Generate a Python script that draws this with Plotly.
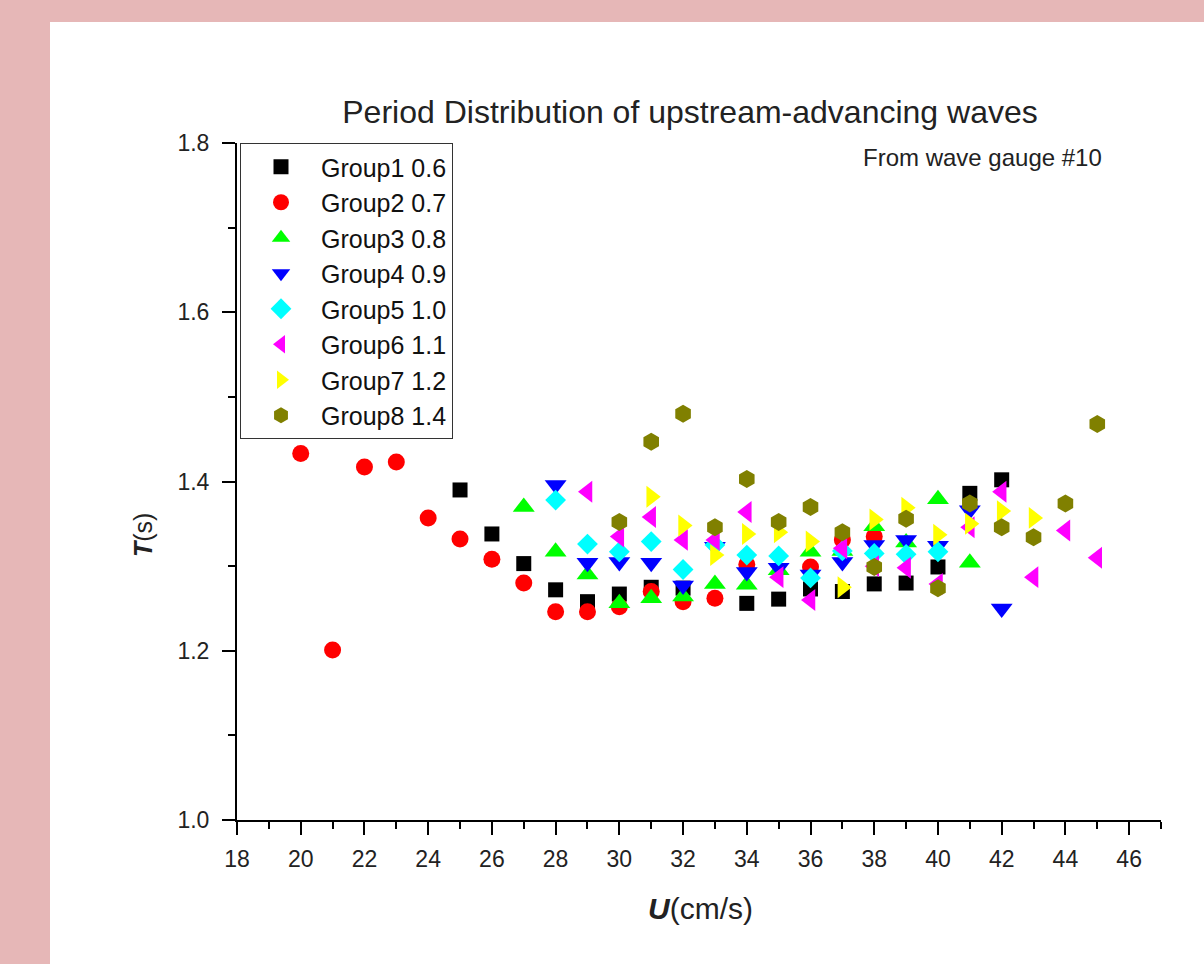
import plotly.graph_objects as go

# ---- data ----
g1_u = [25, 26, 27, 28, 29, 30, 31, 32, 34, 35, 36, 37, 38, 39, 40, 41, 42]
g1_t = [1.390, 1.338, 1.303, 1.272, 1.258, 1.267, 1.275, 1.274, 1.256, 1.261, 1.273, 1.270, 1.279, 1.280, 1.299, 1.386, 1.402]

g2_u = [20, 21, 22, 23, 24, 25, 26, 27, 28, 29, 30, 31, 32, 33, 34, 36, 37, 38]
g2_t = [1.433, 1.201, 1.417, 1.423, 1.357, 1.332, 1.308, 1.280, 1.246, 1.246, 1.252, 1.270, 1.258, 1.262, 1.302, 1.299, 1.331, 1.335]

g3_u = [27, 28, 29, 30, 31, 32, 33, 34, 35, 36, 37, 38, 39, 40, 41]
g3_t = [1.370, 1.317, 1.290, 1.256, 1.262, 1.264, 1.279, 1.278, 1.295, 1.317, 1.318, 1.347, 1.328, 1.379, 1.304]

g4_u = [28, 29, 30, 31, 32, 33, 34, 35, 36, 37, 38, 39, 40, 41, 42]
g4_t = [1.396, 1.304, 1.305, 1.304, 1.277, 1.323, 1.293, 1.298, 1.290, 1.305, 1.325, 1.331, 1.324, 1.366, 1.250]

g5_u = [28, 29, 30, 31, 32, 33, 34, 35, 36, 37, 38, 39, 40]
g5_t = [1.378, 1.326, 1.317, 1.329, 1.296, 1.325, 1.313, 1.312, 1.286, 1.318, 1.315, 1.314, 1.317]

g6_u = [29, 30, 31, 32, 33, 34, 35, 36, 37, 38, 39, 40, 41, 42, 43, 44, 45]
g6_t = [1.388, 1.335, 1.358, 1.331, 1.331, 1.364, 1.287, 1.260, 1.321, 1.300, 1.298, 1.279, 1.346, 1.388, 1.287, 1.342, 1.310]

g7_u = [31, 32, 33, 34, 35, 36, 37, 38, 39, 40, 41, 42, 43]
g7_t = [1.382, 1.348, 1.313, 1.338, 1.340, 1.329, 1.275, 1.355, 1.369, 1.337, 1.350, 1.365, 1.357]

g8_u = [30, 31, 32, 33, 34, 35, 36, 37, 38, 39, 40, 41, 42, 43, 44, 45]
g8_t = [1.352, 1.447, 1.480, 1.346, 1.403, 1.352, 1.370, 1.340, 1.299, 1.356, 1.274, 1.374, 1.346, 1.334, 1.374, 1.468]

names = ["Group1 0.6", "Group2 0.7", "Group3 0.8", "Group4 0.9",
         "Group5 1.0", "Group6 1.1", "Group7 1.2", "Group8 1.4"]
x_ticks = [18, 20, 22, 24, 26, 28, 30, 32, 34, 36, 38, 40, 42, 44, 46]
y_ticks = [1.0, 1.2, 1.4, 1.6, 1.8]

series = [(g1_u, g1_t), (g2_u, g2_t), (g3_u, g3_t), (g4_u, g4_t),
          (g5_u, g5_t), (g6_u, g6_t), (g7_u, g7_t), (g8_u, g8_t)]
colors = ["#000000", "#FF0000", "#00FF00", "#0000FF",
          "#00FFFF", "#FF00FF", "#FFFF00", "#808000"]
symbols = ["square", "circle", "triangle-up", "triangle-down",
           "diamond", "triangle-left", "triangle-right", "hexagon"]
sizes = [15, 17, 19, 19, 16, 19, 19, 18]

FONT = "Arial, 'Liberation Sans', sans-serif"
TXT = "#222222"

fig = go.Figure()
for (u, t), nm, c, s, sz in zip(series, names, colors, symbols, sizes):
    fig.add_trace(go.Scatter(
        x=u, y=t, mode="markers", name=nm,
        marker=dict(symbol=s, color=c, size=sz, line=dict(width=0)),
    ))

W, H = 1204, 964
L, R, T, B = 237, 43, 143, 144
pw, ph = W - L - R, H - T - B

fig.update_layout(
    width=W, height=H,
    margin=dict(l=L, r=R, t=T, b=B, pad=0),
    paper_bgcolor="#E6B7B7",
    plot_bgcolor="white",
    font=dict(family=FONT, color=TXT),
    showlegend=True,
    title=dict(
        text="Period Distribution of upstream-advancing waves",
        x=690 / W, xref="container", xanchor="center",
        y=1 - 112 / H, yref="container", yanchor="middle",
        font=dict(size=32, family=FONT, color=TXT),
    ),
    legend=dict(
        x=3 / pw, y=1.0, xanchor="left", yanchor="top",
        bgcolor="white", bordercolor="#333333", borderwidth=1,
        font=dict(size=25, family=FONT, color="#111111"),
        itemwidth=70,
    ),
    shapes=[dict(
        type="rect", xref="paper", yref="paper",
        x0=(50 - L) / pw, x1=1.2, y0=-0.4, y1=1 + (T - 22) / ph,
        fillcolor="white", line=dict(width=0), layer="below",
    )],
)

fig.update_xaxes(
    range=[18, 47], tickmode="array", tickvals=x_ticks,
    ticks="outside", ticklen=13, tickwidth=2, tickcolor="black",
    ticklabelstandoff=4,
    showline=True, linewidth=2, linecolor="black", mirror=False,
    showgrid=False, zeroline=False,
    tickfont=dict(size=23, family=FONT, color=TXT),
    minor=dict(dtick=1, tick0=18, ticks="outside", ticklen=7, tickwidth=2,
               tickcolor="black", showgrid=False),
)
fig.update_yaxes(
    range=[1.0, 1.8], tickmode="array", tickvals=y_ticks, tickformat=".1f",
    ticks="outside", ticklen=13, tickwidth=2, tickcolor="black",
    ticklabelstandoff=8,
    showline=True, linewidth=2, linecolor="black", mirror=False,
    showgrid=False, zeroline=False,
    tickfont=dict(size=23, family=FONT, color=TXT),
    minor=dict(dtick=0.1, tick0=1.0, ticks="outside", ticklen=7, tickwidth=2,
               tickcolor="black", showgrid=False),
)

fig.add_annotation(
    text="<b><i>U</i></b>(cm/s)", xref="paper", yref="paper",
    x=(700 - L) / pw, y=-(908 - (H - B)) / ph, xanchor="center", yanchor="middle",
    showarrow=False, font=dict(size=30, family=FONT, color=TXT),
)
fig.add_annotation(
    text="<b><i>T</i></b>(s)", xref="paper", yref="paper",
    x=-(L - 143) / pw, y=((H - B) - 535) / ph, xanchor="center", yanchor="middle",
    textangle=-90, showarrow=False, font=dict(size=25, family=FONT, color=TXT),
)
fig.add_annotation(
    text="From wave gauge #10", xref="paper", yref="paper",
    x=(1104 - L) / pw, y=((H - B) - 157) / ph, xanchor="right", yanchor="middle",
    showarrow=False, font=dict(size=24, family=FONT, color=TXT),
)

fig.write_html(
    "out.html",
    config={"displayModeBar": False},
    post_script="document.body.style.margin='0';document.body.style.overflow='hidden';",
)
